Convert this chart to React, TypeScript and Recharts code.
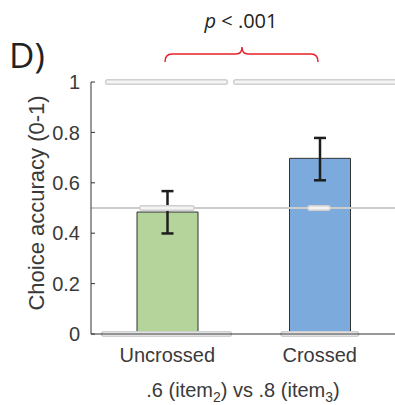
import { Bar, ComposedChart, ErrorBar, ReferenceLine, XAxis, YAxis } from 'recharts';

const conditions = ['Uncrossed', 'Crossed'];
const accuracy = [0.484, 0.697];
const errLow = [0.085, 0.087];
const errHigh = [0.083, 0.081];
const barColors = ['#b5d49c', '#7caadc'];

const yTicks = [0, 0.2, 0.4, 0.6, 0.8, 1];

// participant dot clusters: level, start, end (0..1 across both groups)
const dotLevels = [1, 1, 0.5, 0.5, 0, 0];
const dotStart = [0.055, 0.475, 0.167, 0.718, 0.042, 0.63];
const dotEnd = [0.44, 1.03, 0.331, 0.777, 0.453, 0.87];

const chartData = conditions.map((name, i) => ({
  name,
  value: accuracy[i],
  err: [errLow[i], errHigh[i]],
  fill: barColors[i],
}));

const tickFont = { fontFamily: 'Liberation Sans', fontSize: 20, fill: '#3a3a3a' };

export default function App() {
  return (
    <div style={{ position: 'absolute', left: 0, top: 0, width: 395, height: 405, overflow: 'hidden', background: '#fff' }}>
      <ComposedChart
        width={396}
        height={405}
        data={chartData}
        margin={{ top: 82, right: 0, bottom: 41, left: 31 }}
        barCategoryGap={0}
      >
        <XAxis
          dataKey="name"
          axisLine={{ stroke: '#333', strokeWidth: 1 }}
          tickLine={false}
          tick={tickFont}
          tickMargin={8}
          height={30}
          padding={{ left: 0, right: 0 }}
        />
        <XAxis xAxisId="n" type="number" domain={[0, 1]} hide allowDataOverflow />
        <YAxis
          domain={[0, 1]}
          ticks={yTicks}
          tickFormatter={(v: number) => (v === 0 || v === 1 ? String(v) : v.toFixed(1))}
          axisLine={{ stroke: '#333', strokeWidth: 1 }}
          tickLine={{ stroke: '#333' }}
          tickSize={-4}
          tickMargin={15}
          tick={tickFont}
          width={60}
        />
        <Bar dataKey="value" barSize={61} stroke="#333" strokeWidth={1} isAnimationActive={false}>
          <ErrorBar dataKey="err" width={6} stroke="#1e1e1e" strokeWidth={2.5} isAnimationActive={false} />
        </Bar>
        <ReferenceLine y={0.5} stroke="#cccccc" strokeWidth={2} />
        {dotLevels.map((lv, i) => (
          <ReferenceLine
            key={'o' + i}
            xAxisId="n"
            segment={[{ x: dotStart[i], y: lv }, { x: dotEnd[i], y: lv }]}
            stroke="#cfcfcf"
            strokeWidth={6}
            strokeLinecap="round"
            ifOverflow="visible"
          />
        ))}
        {dotLevels.map((lv, i) => (
          <ReferenceLine
            key={'i' + i}
            xAxisId="n"
            segment={[{ x: dotStart[i], y: lv }, { x: dotEnd[i], y: lv }]}
            stroke="#f4f4f4"
            strokeWidth={3}
            strokeLinecap="round"
            ifOverflow="visible"
          />
        ))}
      </ComposedChart>
      <svg width={395} height={405} style={{ position: 'absolute', left: 0, top: 0, pointerEvents: 'none' }}>
        <text x={9} y={68} fontFamily="Open Sans" fontSize={35} fill="#222">D)</text>
        <text x={241} y={28} textAnchor="middle" fontFamily="Open Sans" fontSize={20} fill="#222">
          <tspan fontStyle="italic">p</tspan> &lt; .001
        </text>
        <path
          d="M165,62 Q165,54 172,54 L236,54 Q242,54 242,47 Q242,54 248,54 L311,54 Q318,54 318,62"
          fill="none"
          stroke="#e8202a"
          strokeWidth={1.5}
        />
        <text
          transform="translate(44,203) rotate(-90)"
          textAnchor="middle"
          fontFamily="Liberation Sans"
          fontSize={22}
          fill="#3a3a3a"
        >
          Choice accuracy (0-1)
        </text>
        <text x={243} y={397} textAnchor="middle" fontFamily="Liberation Sans" fontSize={20} fill="#3a3a3a">
          .6 (item<tspan fontSize={14} dy={5}>2</tspan><tspan dy={-5}>) vs .8 (item</tspan><tspan fontSize={14} dy={5}>3</tspan><tspan dy={-5}>)</tspan>
        </text>
      </svg>
    </div>
  );
}
